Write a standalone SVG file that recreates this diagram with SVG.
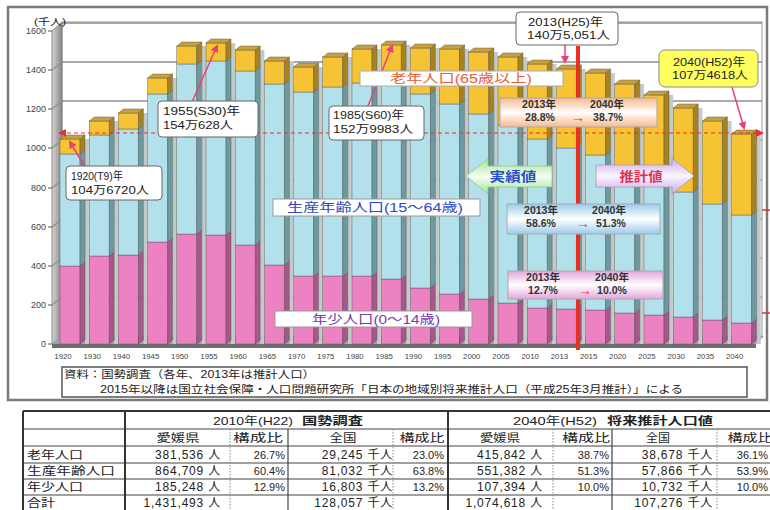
<svg xmlns="http://www.w3.org/2000/svg" width="770" height="510" viewBox="0 0 770 510">
<defs>
<style>
text{font-family:"Liberation Sans","Noto Sans CJK JP",sans-serif;fill:#222}
.p{fill:#ec82c2}.ps{fill:#a8578a}.b{fill:#b3e1eb}.bs{fill:#6c9aa0}.o{fill:#f6c334}.os{fill:#a7831f}.t{fill:#c7a23c}.g{fill:#c3caca}
.bar rect,.bar polygon{stroke:#4a4a4a;stroke-width:0.4}
.bar .g{stroke:none}
.grid{stroke:#8e8e8e;stroke-width:1.3;fill:none}
.xl{font-size:7.8px;text-anchor:middle;fill:#444}
.yl{font-size:9px;text-anchor:end;fill:#444}
.cb{fill:#fff;stroke:#666;stroke-width:1}
.ct{font-size:11px;fill:#222}
.pt{font-size:10.5px;font-weight:bold;text-anchor:middle;fill:#333}
.ar{font-size:14px;font-weight:bold;text-anchor:middle;fill:#e83a30}
.con{stroke:#e8407c;stroke-width:1.5;fill:none}
.tl{stroke:#444;stroke-width:1.2}
.tk{stroke:#333;stroke-width:2}
.td{stroke:#888;stroke-width:1;stroke-dasharray:1.5 1.5}
.tx{font-size:12px;text-anchor:end;letter-spacing:0.8px}
.tp{font-size:11px;text-anchor:end}
.th{font-size:11px;text-anchor:middle}
.rl{font-size:11px}
</style>
<linearGradient id="gOld" x1="0" y1="0" x2="0" y2="1"><stop offset="0" stop-color="#f7b98a"/><stop offset="0.5" stop-color="#fff"/><stop offset="1" stop-color="#f7b98a"/></linearGradient>
<linearGradient id="gBlue" x1="0" y1="0" x2="0" y2="1"><stop offset="0" stop-color="#9ccbec"/><stop offset="0.5" stop-color="#fff"/><stop offset="1" stop-color="#9ccbec"/></linearGradient>
<linearGradient id="gPink" x1="0" y1="0" x2="0" y2="1"><stop offset="0" stop-color="#e3a6dc"/><stop offset="0.5" stop-color="#fff"/><stop offset="1" stop-color="#e3a6dc"/></linearGradient>
<linearGradient id="gGreen" x1="0" y1="0" x2="0" y2="1"><stop offset="0" stop-color="#a8e29c"/><stop offset="0.5" stop-color="#f2fff0"/><stop offset="1" stop-color="#a8e29c"/></linearGradient>
<linearGradient id="gPurple" x1="0" y1="0" x2="0" y2="1"><stop offset="0" stop-color="#c9a8ee"/><stop offset="0.5" stop-color="#faf4ff"/><stop offset="1" stop-color="#c9a8ee"/></linearGradient>
<linearGradient id="gWall" x1="0" y1="0" x2="1" y2="0"><stop offset="0" stop-color="#d4d4d4"/><stop offset="1" stop-color="#878787"/></linearGradient>
<marker id="ah" markerWidth="8" markerHeight="8" refX="6" refY="4" orient="auto" markerUnits="userSpaceOnUse"><path d="M0,0 L8,4 L0,8 Z" fill="#e8407c"/></marker>
<marker id="ahr" markerWidth="8" markerHeight="8" refX="6" refY="4" orient="auto-start-reverse" markerUnits="userSpaceOnUse"><path d="M0,0 L8,4 L0,8 Z" fill="#e83030"/></marker>
</defs>

<rect x="0" y="0" width="770" height="510" fill="#fff"/>
<rect x="8" y="7" width="759" height="393" fill="#fff" stroke="#7a7a7a" stroke-width="2.5"/>

<g id="axes">
<rect x="62" y="22" width="700" height="314" fill="#fff" stroke="#999" stroke-width="1"/>
<polygon points="52,344 52,31 62,22 62,336" fill="url(#gWall)" stroke="#777" stroke-width="0.8"/>
<g class="grid">
<line x1="62" y1="297" x2="762" y2="297"/><line x1="62" y1="258" x2="762" y2="258"/><line x1="62" y1="219" x2="762" y2="219"/><line x1="62" y1="180" x2="762" y2="180"/><line x1="62" y1="140" x2="762" y2="140"/><line x1="62" y1="101" x2="762" y2="101"/><line x1="62" y1="62" x2="762" y2="62"/><line x1="62" y1="23" x2="762" y2="23"/>
<line x1="52" y1="305" x2="62" y2="297"/><line x1="52" y1="266" x2="62" y2="258"/><line x1="52" y1="227" x2="62" y2="219"/><line x1="52" y1="188" x2="62" y2="180"/><line x1="52" y1="148" x2="62" y2="140"/><line x1="52" y1="109" x2="62" y2="101"/><line x1="52" y1="70" x2="62" y2="62"/>
</g>
<g stroke="#555" stroke-width="1">
<line x1="48" y1="344" x2="52" y2="344"/><line x1="48" y1="305" x2="52" y2="305"/><line x1="48" y1="266" x2="52" y2="266"/><line x1="48" y1="227" x2="52" y2="227"/><line x1="48" y1="188" x2="52" y2="188"/><line x1="48" y1="148" x2="52" y2="148"/><line x1="48" y1="109" x2="52" y2="109"/><line x1="48" y1="70" x2="52" y2="70"/><line x1="48" y1="31" x2="52" y2="31"/>
</g>
<polygon points="52,344 62,336 764,336 756,344" fill="#a0a0a0"/>
<rect x="52" y="344" width="704" height="4" fill="#6e6e6e"/>
<text x="46" y="347" class="yl">0</text>
<text x="46" y="308" class="yl">200</text>
<text x="46" y="269" class="yl">400</text>
<text x="46" y="230" class="yl">600</text>
<text x="46" y="191" class="yl">800</text>
<text x="46" y="151" class="yl">1000</text>
<text x="46" y="112" class="yl">1200</text>
<text x="46" y="73" class="yl">1400</text>
<text x="46" y="34" class="yl">1600</text>
<text x="34" y="25" font-size="9" textLength="32" lengthAdjust="spacingAndGlyphs" fill="#444">(千人)</text>
</g>

<g id="bars">
<g id="bar-1920" class="bar" transform="translate(60,0)"><rect class="g" x="25" y="139" width="4.2" height="205"/><rect class="p" x="0" y="266" width="20" height="78"/><rect class="b" x="0" y="154" width="20" height="112"/><rect class="o" x="0" y="139" width="20" height="15"/><polygon class="ps" points="20,266 25,262 25,340 20,344"/><polygon class="bs" points="20,154 25,150 25,262 20,266"/><polygon class="os" points="20,139 25,135 25,150 20,154"/><polygon class="t" points="0,139 5,135 25,135 20,139"/></g>
<g id="bar-1930" class="bar" transform="translate(89.2,0)"><rect class="g" x="25" y="121" width="4.2" height="223"/><rect class="p" x="0" y="256" width="20" height="88"/><rect class="b" x="0" y="135" width="20" height="121"/><rect class="o" x="0" y="121" width="20" height="14"/><polygon class="ps" points="20,256 25,252 25,340 20,344"/><polygon class="bs" points="20,135 25,131 25,252 20,256"/><polygon class="os" points="20,121 25,117 25,131 20,135"/><polygon class="t" points="0,121 5,117 25,117 20,121"/></g>
<g id="bar-1940" class="bar" transform="translate(118.4,0)"><rect class="g" x="25" y="113" width="4.2" height="231"/><rect class="p" x="0" y="255" width="20" height="89"/><rect class="b" x="0" y="129" width="20" height="126"/><rect class="o" x="0" y="113" width="20" height="16"/><polygon class="ps" points="20,255 25,251 25,340 20,344"/><polygon class="bs" points="20,129 25,125 25,251 20,255"/><polygon class="os" points="20,113 25,109 25,125 20,129"/><polygon class="t" points="0,113 5,109 25,109 20,113"/></g>
<g id="bar-1945" class="bar" transform="translate(147.6,0)"><rect class="g" x="25" y="78" width="4.2" height="266"/><rect class="p" x="0" y="242" width="20" height="102"/><rect class="b" x="0" y="94" width="20" height="148"/><rect class="o" x="0" y="78" width="20" height="16"/><polygon class="ps" points="20,242 25,238 25,340 20,344"/><polygon class="bs" points="20,94 25,90 25,238 20,242"/><polygon class="os" points="20,78 25,74 25,90 20,94"/><polygon class="t" points="0,78 5,74 25,74 20,78"/></g>
<g id="bar-1950" class="bar" transform="translate(176.8,0)"><rect class="g" x="25" y="46" width="4.2" height="298"/><rect class="p" x="0" y="234" width="20" height="110"/><rect class="b" x="0" y="64" width="20" height="170"/><rect class="o" x="0" y="46" width="20" height="18"/><polygon class="ps" points="20,234 25,230 25,340 20,344"/><polygon class="bs" points="20,64 25,60 25,230 20,234"/><polygon class="os" points="20,46 25,42 25,60 20,64"/><polygon class="t" points="0,46 5,42 25,42 20,46"/></g>
<g id="bar-1955" class="bar" transform="translate(206,0)"><rect class="g" x="25" y="43" width="4.2" height="301"/><rect class="p" x="0" y="235" width="20" height="109"/><rect class="b" x="0" y="61" width="20" height="174"/><rect class="o" x="0" y="43" width="20" height="18"/><polygon class="ps" points="20,235 25,231 25,340 20,344"/><polygon class="bs" points="20,61 25,57 25,231 20,235"/><polygon class="os" points="20,43 25,39 25,57 20,61"/><polygon class="t" points="0,43 5,39 25,39 20,43"/></g>
<g id="bar-1960" class="bar" transform="translate(235.2,0)"><rect class="g" x="25" y="50" width="4.2" height="294"/><rect class="p" x="0" y="245" width="20" height="99"/><rect class="b" x="0" y="71" width="20" height="174"/><rect class="o" x="0" y="50" width="20" height="21"/><polygon class="ps" points="20,245 25,241 25,340 20,344"/><polygon class="bs" points="20,71 25,67 25,241 20,245"/><polygon class="os" points="20,50 25,46 25,67 20,71"/><polygon class="t" points="0,50 5,46 25,46 20,50"/></g>
<g id="bar-1965" class="bar" transform="translate(264.4,0)"><rect class="g" x="25" y="61" width="4.2" height="283"/><rect class="p" x="0" y="265" width="20" height="79"/><rect class="b" x="0" y="84" width="20" height="181"/><rect class="o" x="0" y="61" width="20" height="23"/><polygon class="ps" points="20,265 25,261 25,340 20,344"/><polygon class="bs" points="20,84 25,80 25,261 20,265"/><polygon class="os" points="20,61 25,57 25,80 20,84"/><polygon class="t" points="0,61 5,57 25,57 20,61"/></g>
<g id="bar-1970" class="bar" transform="translate(293.6,0)"><rect class="g" x="25" y="67" width="4.2" height="277"/><rect class="p" x="0" y="276" width="20" height="68"/><rect class="b" x="0" y="92" width="20" height="184"/><rect class="o" x="0" y="67" width="20" height="25"/><polygon class="ps" points="20,276 25,272 25,340 20,344"/><polygon class="bs" points="20,92 25,88 25,272 20,276"/><polygon class="os" points="20,67 25,63 25,88 20,92"/><polygon class="t" points="0,67 5,63 25,63 20,67"/></g>
<g id="bar-1975" class="bar" transform="translate(322.8,0)"><rect class="g" x="25" y="57" width="4.2" height="287"/><rect class="p" x="0" y="276" width="20" height="68"/><rect class="b" x="0" y="87" width="20" height="189"/><rect class="o" x="0" y="57" width="20" height="30"/><polygon class="ps" points="20,276 25,272 25,340 20,344"/><polygon class="bs" points="20,87 25,83 25,272 20,276"/><polygon class="os" points="20,57 25,53 25,83 20,87"/><polygon class="t" points="0,57 5,53 25,53 20,57"/></g>
<g id="bar-1980" class="bar" transform="translate(352,0)"><rect class="g" x="25" y="49" width="4.2" height="295"/><rect class="p" x="0" y="276" width="20" height="68"/><rect class="b" x="0" y="83" width="20" height="193"/><rect class="o" x="0" y="49" width="20" height="34"/><polygon class="ps" points="20,276 25,272 25,340 20,344"/><polygon class="bs" points="20,83 25,79 25,272 20,276"/><polygon class="os" points="20,49 25,45 25,79 20,83"/><polygon class="t" points="0,49 5,45 25,45 20,49"/></g>
<g id="bar-1985" class="bar" transform="translate(381.2,0)"><rect class="g" x="25" y="45" width="4.2" height="299"/><rect class="p" x="0" y="279" width="20" height="65"/><rect class="b" x="0" y="84" width="20" height="195"/><rect class="o" x="0" y="45" width="20" height="39"/><polygon class="ps" points="20,279 25,275 25,340 20,344"/><polygon class="bs" points="20,84 25,80 25,275 20,279"/><polygon class="os" points="20,45 25,41 25,80 20,84"/><polygon class="t" points="0,45 5,41 25,41 20,45"/></g>
<g id="bar-1990" class="bar" transform="translate(410.4,0)"><rect class="g" x="25" y="48" width="4.2" height="296"/><rect class="p" x="0" y="288" width="20" height="56"/><rect class="b" x="0" y="94" width="20" height="194"/><rect class="o" x="0" y="48" width="20" height="46"/><polygon class="ps" points="20,288 25,284 25,340 20,344"/><polygon class="bs" points="20,94 25,90 25,284 20,288"/><polygon class="os" points="20,48 25,44 25,90 20,94"/><polygon class="t" points="0,48 5,44 25,44 20,48"/></g>
<g id="bar-1995" class="bar" transform="translate(439.6,0)"><rect class="g" x="25" y="49" width="4.2" height="295"/><rect class="p" x="0" y="294" width="20" height="50"/><rect class="b" x="0" y="104" width="20" height="190"/><rect class="o" x="0" y="49" width="20" height="55"/><polygon class="ps" points="20,294 25,290 25,340 20,344"/><polygon class="bs" points="20,104 25,100 25,290 20,294"/><polygon class="os" points="20,49 25,45 25,100 20,104"/><polygon class="t" points="0,49 5,45 25,45 20,49"/></g>
<g id="bar-2000" class="bar" transform="translate(468.8,0)"><rect class="g" x="25" y="52" width="4.2" height="292"/><rect class="p" x="0" y="299" width="20" height="45"/><rect class="b" x="0" y="114" width="20" height="185"/><rect class="o" x="0" y="52" width="20" height="62"/><polygon class="ps" points="20,299 25,295 25,340 20,344"/><polygon class="bs" points="20,114 25,110 25,295 20,299"/><polygon class="os" points="20,52 25,48 25,110 20,114"/><polygon class="t" points="0,52 5,48 25,48 20,52"/></g>
<g id="bar-2005" class="bar" transform="translate(498,0)"><rect class="g" x="25" y="57" width="4.2" height="287"/><rect class="p" x="0" y="303" width="20" height="41"/><rect class="b" x="0" y="125" width="20" height="178"/><rect class="o" x="0" y="57" width="20" height="68"/><polygon class="ps" points="20,303 25,299 25,340 20,344"/><polygon class="bs" points="20,125 25,121 25,299 20,303"/><polygon class="os" points="20,57 25,53 25,121 20,125"/><polygon class="t" points="0,57 5,53 25,53 20,57"/></g>
<g id="bar-2010" class="bar" transform="translate(527.2,0)"><rect class="g" x="25" y="64" width="4.2" height="280"/><rect class="p" x="0" y="308" width="20" height="36"/><rect class="b" x="0" y="139" width="20" height="169"/><rect class="o" x="0" y="64" width="20" height="75"/><polygon class="ps" points="20,308 25,304 25,340 20,344"/><polygon class="bs" points="20,139 25,135 25,304 20,308"/><polygon class="os" points="20,64 25,60 25,135 20,139"/><polygon class="t" points="0,64 5,60 25,60 20,64"/></g>
<g id="bar-2013" class="bar" transform="translate(556.4,0)"><rect class="g" x="25" y="69" width="4.2" height="275"/><rect class="p" x="0" y="309" width="20" height="35"/><rect class="b" x="0" y="148" width="20" height="161"/><rect class="o" x="0" y="69" width="20" height="79"/><polygon class="ps" points="20,309 25,305 25,340 20,344"/><polygon class="bs" points="20,148 25,144 25,305 20,309"/><polygon class="os" points="20,69 25,65 25,144 20,148"/><polygon class="t" points="0,69 5,65 25,65 20,69"/></g>
<g id="bar-2015" class="bar" transform="translate(585.6,0)"><rect class="g" x="25" y="73" width="4.2" height="271"/><rect class="p" x="0" y="310" width="20" height="34"/><rect class="b" x="0" y="155" width="20" height="155"/><rect class="o" x="0" y="73" width="20" height="82"/><polygon class="ps" points="20,310 25,306 25,340 20,344"/><polygon class="bs" points="20,155 25,151 25,306 20,310"/><polygon class="os" points="20,73 25,69 25,151 20,155"/><polygon class="t" points="0,73 5,69 25,69 20,73"/></g>
<g id="bar-2020" class="bar" transform="translate(614.8,0)"><rect class="g" x="25" y="84" width="4.2" height="260"/><rect class="p" x="0" y="313" width="20" height="31"/><rect class="b" x="0" y="169" width="20" height="144"/><rect class="o" x="0" y="84" width="20" height="85"/><polygon class="ps" points="20,313 25,309 25,340 20,344"/><polygon class="bs" points="20,169 25,165 25,309 20,313"/><polygon class="os" points="20,84 25,80 25,165 20,169"/><polygon class="t" points="0,84 5,80 25,80 20,84"/></g>
<g id="bar-2025" class="bar" transform="translate(644,0)"><rect class="g" x="25" y="95" width="4.2" height="249"/><rect class="p" x="0" y="315" width="20" height="29"/><rect class="b" x="0" y="181" width="20" height="134"/><rect class="o" x="0" y="95" width="20" height="86"/><polygon class="ps" points="20,315 25,311 25,340 20,344"/><polygon class="bs" points="20,181 25,177 25,311 20,315"/><polygon class="os" points="20,95 25,91 25,177 20,181"/><polygon class="t" points="0,95 5,91 25,91 20,95"/></g>
<g id="bar-2030" class="bar" transform="translate(673.2,0)"><rect class="g" x="25" y="108" width="4.2" height="236"/><rect class="p" x="0" y="317" width="20" height="27"/><rect class="b" x="0" y="192" width="20" height="125"/><rect class="o" x="0" y="108" width="20" height="84"/><polygon class="ps" points="20,317 25,313 25,340 20,344"/><polygon class="bs" points="20,192 25,188 25,313 20,317"/><polygon class="os" points="20,108 25,104 25,188 20,192"/><polygon class="t" points="0,108 5,104 25,104 20,108"/></g>
<g id="bar-2035" class="bar" transform="translate(702.4,0)"><rect class="g" x="25" y="121" width="4.2" height="223"/><rect class="p" x="0" y="320" width="20" height="24"/><rect class="b" x="0" y="204" width="20" height="116"/><rect class="o" x="0" y="121" width="20" height="83"/><polygon class="ps" points="20,320 25,316 25,340 20,344"/><polygon class="bs" points="20,204 25,200 25,316 20,320"/><polygon class="os" points="20,121 25,117 25,200 20,204"/><polygon class="t" points="0,121 5,117 25,117 20,121"/></g>
<g id="bar-2040" class="bar" transform="translate(731.6,0)"><rect class="g" x="25" y="134" width="4.2" height="210"/><rect class="p" x="0" y="323" width="20" height="21"/><rect class="b" x="0" y="215" width="20" height="108"/><rect class="o" x="0" y="134" width="20" height="81"/><polygon class="ps" points="20,323 25,319 25,340 20,344"/><polygon class="bs" points="20,215 25,211 25,319 20,323"/><polygon class="os" points="20,134 25,130 25,211 20,215"/><polygon class="t" points="0,134 5,130 25,130 20,134"/></g>
</g>

<g id="x-labels">
<text x="63" y="359" class="xl">1920</text><text x="92.2" y="359" class="xl">1930</text><text x="121.4" y="359" class="xl">1940</text><text x="150.6" y="359" class="xl">1945</text><text x="179.8" y="359" class="xl">1950</text><text x="209" y="359" class="xl">1955</text><text x="238.2" y="359" class="xl">1960</text><text x="267.4" y="359" class="xl">1965</text><text x="296.6" y="359" class="xl">1970</text><text x="325.8" y="359" class="xl">1975</text><text x="355" y="359" class="xl">1980</text><text x="384.2" y="359" class="xl">1985</text><text x="413.4" y="359" class="xl">1990</text><text x="442.6" y="359" class="xl">1995</text><text x="471.8" y="359" class="xl">2000</text><text x="501" y="359" class="xl">2005</text><text x="530.2" y="359" class="xl">2010</text><text x="559.4" y="359" class="xl">2013</text><text x="588.6" y="359" class="xl">2015</text><text x="617.8" y="359" class="xl">2020</text><text x="647" y="359" class="xl">2025</text><text x="676.2" y="359" class="xl">2030</text><text x="705.4" y="359" class="xl">2035</text><text x="734.6" y="359" class="xl">2040</text>
</g>

<g id="connectors">
<line x1="60" y1="133" x2="762" y2="133" stroke="#e83030" stroke-width="1.2" stroke-dasharray="4 3" marker-start="url(#ahr)" marker-end="url(#ahr)"/>
<line x1="578" y1="46" x2="578" y2="350" stroke="#e83020" stroke-width="4"/>
<line x1="762" y1="210" x2="770" y2="210" stroke="#e83030" stroke-width="1.5"/>
<line x1="762" y1="313" x2="770" y2="313" stroke="#e83030" stroke-width="1.5"/>
<line class="con" x1="85" y1="167" x2="70" y2="142" marker-end="url(#ah)"/>
<line class="con" x1="192" y1="102" x2="217" y2="46" marker-end="url(#ah)"/>
<line class="con" x1="368" y1="106" x2="392" y2="46" marker-end="url(#ah)"/>
<line class="con" x1="565" y1="45" x2="565" y2="62" marker-end="url(#ah)"/>
<line class="con" x1="732" y1="87" x2="744" y2="128" marker-end="url(#ah)"/>
</g>

<g id="label-old"><rect x="360" y="71" width="203" height="15" fill="#fff" stroke="#aaa"/><text x="461" y="83" font-size="12" text-anchor="middle" style="fill:#e8603a" textLength="142" lengthAdjust="spacingAndGlyphs">老年人口(65歳以上)</text></g>
<g id="label-working"><rect x="273" y="199" width="207" height="17" fill="#fff" stroke="#999"/><text x="375" y="212" font-size="12" text-anchor="middle" style="fill:#3048c0" textLength="176" lengthAdjust="spacingAndGlyphs">生産年齢人口(15～64歳)</text></g>
<g id="label-young"><rect x="275" y="311" width="197" height="16" fill="#fff" stroke="#999"/><text x="376" y="324" font-size="12" text-anchor="middle" style="fill:#7a3aa8" textLength="128" lengthAdjust="spacingAndGlyphs">年少人口(0～14歳)</text></g>

<g id="callout-1920"><rect class="cb" x="66" y="166" width="96" height="34" rx="4"/><text class="ct" x="71" y="180" textLength="52" lengthAdjust="spacingAndGlyphs">1920(T9)年</text><text class="ct" x="71" y="194" textLength="78" lengthAdjust="spacingAndGlyphs">104万6720人</text></g>
<g id="callout-1955"><rect class="cb" x="158" y="101" width="100" height="36" rx="4"/><text class="ct" x="163" y="115" textLength="77" lengthAdjust="spacingAndGlyphs">1955(S30)年</text><text class="ct" x="163" y="129" textLength="70" lengthAdjust="spacingAndGlyphs">154万628人</text></g>
<g id="callout-1985"><rect class="cb" x="329" y="106" width="95" height="34" rx="4"/><text class="ct" x="333" y="119" textLength="71" lengthAdjust="spacingAndGlyphs">1985(S60)年</text><text class="ct" x="333" y="133" textLength="80" lengthAdjust="spacingAndGlyphs">152万9983人</text></g>
<g id="callout-2013"><rect class="cb" x="516" y="12" width="102" height="33" rx="4"/><text class="ct" x="528" y="26" textLength="75" lengthAdjust="spacingAndGlyphs">2013(H25)年</text><text class="ct" x="527" y="39" textLength="83" lengthAdjust="spacingAndGlyphs">140万5,051人</text></g>
<g id="callout-2040"><rect x="659" y="50" width="99" height="37" rx="6" fill="#ffff60" stroke="#888"/><text class="ct" x="673" y="66" textLength="72" lengthAdjust="spacingAndGlyphs">2040(H52)年</text><text class="ct" x="672" y="79" textLength="76" lengthAdjust="spacingAndGlyphs">107万4618人</text></g>

<g id="ratio-old"><rect x="500" y="98" width="157" height="29" fill="url(#gOld)" stroke="#aaa"/><text class="pt" x="539" y="108">2013年</text><text class="pt" x="607" y="108">2040年</text><text class="pt" x="540" y="121">28.8%</text><text class="ar" x="578" y="122">→</text><text class="pt" x="608" y="121">38.7%</text></g>
<g id="ratio-working"><rect x="507" y="204" width="153" height="30" fill="url(#gBlue)" stroke="#aaa"/><text class="pt" x="541" y="214">2013年</text><text class="pt" x="609" y="214">2040年</text><text class="pt" x="541" y="227">58.6%</text><text class="ar" x="583" y="228">→</text><text class="pt" x="611" y="227">51.3%</text></g>
<g id="ratio-young"><rect x="508" y="271" width="155" height="28" fill="url(#gPink)" stroke="#aaa"/><text class="pt" x="543" y="281">2013年</text><text class="pt" x="612" y="281">2040年</text><text class="pt" x="543" y="294">12.7%</text><text class="ar" x="585" y="295">→</text><text class="pt" x="612" y="294">10.0%</text></g>

<g id="arrow-actual"><path d="M466,176 L488,159 L488,166 L552,166 L552,187 L488,187 L488,194 Z" fill="url(#gGreen)" stroke="#8c8" stroke-width="0.8"/><text x="513" y="181" font-size="13" font-weight="bold" text-anchor="middle" style="fill:#2a50c8" textLength="47" lengthAdjust="spacingAndGlyphs">実績値</text></g>
<g id="arrow-projected"><path d="M596,165 L672,165 L672,158 L694,176 L672,194 L672,187 L596,187 Z" fill="url(#gPurple)" stroke="#a9a" stroke-width="0.8"/><text x="641" y="181" font-size="13" font-weight="bold" text-anchor="middle" style="fill:#e03050" textLength="43" lengthAdjust="spacingAndGlyphs">推計値</text></g>

<g id="source">
<rect x="62" y="367" width="685" height="30" fill="#fff" stroke="#555" stroke-width="1.5"/>
<text x="64" y="378" font-size="10.5" textLength="251" lengthAdjust="spacingAndGlyphs">資料：国勢調査（各年、2013年は推計人口）</text>
<text x="100" y="393" font-size="10.5" textLength="583" lengthAdjust="spacingAndGlyphs">2015年以降は国立社会保障・人口問題研究所「日本の地域別将来推計人口（平成25年3月推計）」による</text>
</g>

<g id="table">
<rect x="23" y="411" width="747" height="99" fill="#fff"/>
<line class="tk" x1="23" y1="411" x2="770" y2="411"/>
<line class="tl" x1="23" y1="429" x2="770" y2="429"/>
<line class="tl" x1="23" y1="446" x2="770" y2="446"/>
<line class="tl" x1="23" y1="463" x2="770" y2="463"/>
<line class="tl" x1="23" y1="479" x2="770" y2="479"/>
<line class="tl" x1="23" y1="495" x2="770" y2="495"/>
<line class="tk" x1="23" y1="411" x2="23" y2="510"/>
<line class="tk" x1="125" y1="411" x2="125" y2="510"/>
<line class="tk" x1="448" y1="411" x2="448" y2="510"/>
<line class="tl" x1="288" y1="429" x2="288" y2="510"/>
<line class="tl" x1="612" y1="429" x2="612" y2="510"/>
<line class="td" x1="230" y1="429" x2="230" y2="510"/>
<line class="td" x1="393" y1="429" x2="393" y2="510"/>
<line class="td" x1="553" y1="429" x2="553" y2="510"/>
<line class="td" x1="717" y1="429" x2="717" y2="510"/>
<text x="213" y="425" font-size="11" textLength="80" lengthAdjust="spacingAndGlyphs">2010年(H22)</text>
<text x="302" y="425" font-size="11" font-weight="bold" textLength="61" lengthAdjust="spacingAndGlyphs">国勢調査</text>
<text x="513" y="425" font-size="11" textLength="84" lengthAdjust="spacingAndGlyphs">2040年(H52)</text>
<text x="607" y="425" font-size="11" font-weight="bold" textLength="106" lengthAdjust="spacingAndGlyphs">将来推計人口値</text>
<text class="th" x="178" y="442" textLength="43" lengthAdjust="spacingAndGlyphs">愛媛県</text>
<text class="th" x="258" y="442" textLength="50" lengthAdjust="spacingAndGlyphs">構成比</text>
<text class="th" x="343" y="442" textLength="27" lengthAdjust="spacingAndGlyphs">全国</text>
<text class="th" x="422" y="442" textLength="45" lengthAdjust="spacingAndGlyphs">構成比</text>
<text class="th" x="500" y="442" textLength="40" lengthAdjust="spacingAndGlyphs">愛媛県</text>
<text class="th" x="586" y="442" textLength="48" lengthAdjust="spacingAndGlyphs">構成比</text>
<text class="th" x="658" y="442" textLength="24" lengthAdjust="spacingAndGlyphs">全国</text>
<text class="th" x="750" y="442" textLength="45" lengthAdjust="spacingAndGlyphs">構成比</text>
<text class="rl" x="27" y="459" textLength="56" lengthAdjust="spacingAndGlyphs">老年人口</text>
<text class="rl" x="27" y="475" textLength="88" lengthAdjust="spacingAndGlyphs">生産年齢人口</text>
<text class="rl" x="27" y="491" textLength="56" lengthAdjust="spacingAndGlyphs">年少人口</text>
<text class="rl" x="27" y="507" textLength="28" lengthAdjust="spacingAndGlyphs">合計</text>
<text class="tx" x="221" y="459">381,536 人</text><text class="tp" x="285" y="459">26.7%</text><text class="tx" x="393" y="459">29,245 千人</text><text class="tp" x="444" y="459">23.0%</text><text class="tx" x="543" y="459">415,842 人</text><text class="tp" x="609" y="459">38.7%</text><text class="tx" x="713" y="459">38,678 千人</text><text class="tp" x="768" y="459">36.1%</text>
<text class="tx" x="221" y="475">864,709 人</text><text class="tp" x="285" y="475">60.4%</text><text class="tx" x="393" y="475">81,032 千人</text><text class="tp" x="444" y="475">63.8%</text><text class="tx" x="543" y="475">551,382 人</text><text class="tp" x="609" y="475">51.3%</text><text class="tx" x="713" y="475">57,866 千人</text><text class="tp" x="768" y="475">53.9%</text>
<text class="tx" x="221" y="491">185,248 人</text><text class="tp" x="285" y="491">12.9%</text><text class="tx" x="393" y="491">16,803 千人</text><text class="tp" x="444" y="491">13.2%</text><text class="tx" x="543" y="491">107,394 人</text><text class="tp" x="609" y="491">10.0%</text><text class="tx" x="713" y="491">10,732 千人</text><text class="tp" x="768" y="491">10.0%</text>
<text class="tx" x="221" y="507">1,431,493 人</text><text class="tx" x="393" y="507">128,057 千人</text><text class="tx" x="543" y="507">1,074,618 人</text><text class="tx" x="713" y="507">107,276 千人</text>
</g>
</svg>
